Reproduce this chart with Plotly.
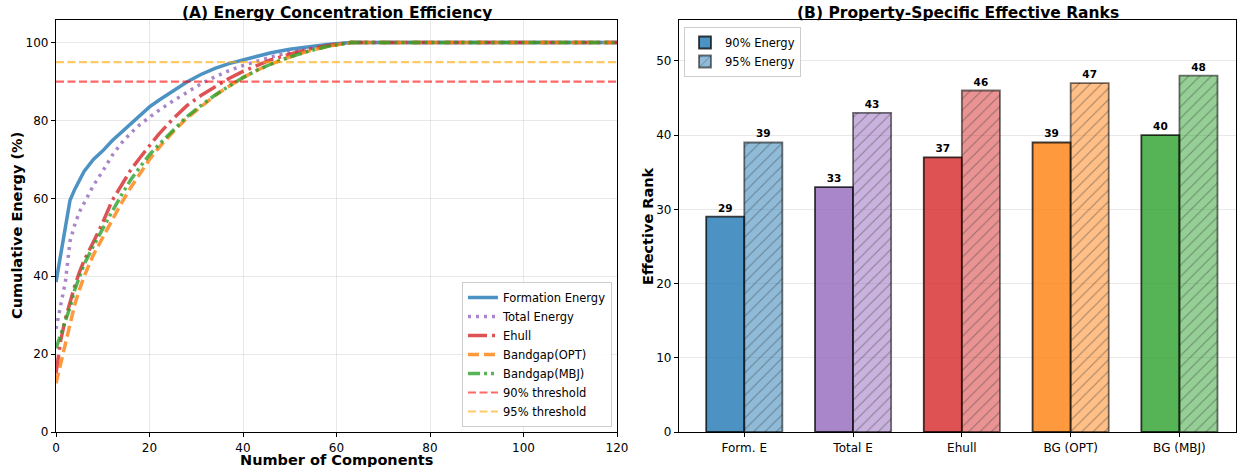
import plotly.graph_objects as go

# ---------------- data ----------------
components = [0, 1, 2, 3, 4, 5, 6, 8, 10, 12, 14, 16, 18, 20, 22, 25, 28, 31, 34, 37,
              40, 43, 46, 50, 54, 58, 63, 70, 80, 90, 100, 110, 120]

formation_energy = [38.5, 45.5, 52.5, 59.5, 62.3, 64.8, 66.9, 70.0, 72.2, 74.8, 77.0, 79.2, 81.5,
                    83.5, 85.2, 87.6, 89.9, 91.8, 93.4, 94.6, 95.6, 96.6, 97.4, 98.3, 99.0, 99.5,
                    100, 100, 100, 100, 100, 100, 100]
total_energy = [26.5, 32.0, 38.5, 49.0, 53.2, 56.5, 58.7, 63.3, 67.0, 71.0, 74.2, 76.8, 79.0,
                80.9, 82.6, 85.0, 87.3, 89.4, 91.2, 92.8, 94.1, 95.3, 96.3, 97.5, 98.4, 99.2,
                100, 100, 100, 100, 100, 100, 100]
ehull = [15.0, 23.5, 29.0, 33.3, 37.5, 41.0, 44.0, 48.8, 53.8, 59.4, 63.3, 67.3, 70.5,
         73.6, 76.5, 80.4, 83.8, 86.4, 88.7, 90.8, 92.6, 94.2, 95.6, 97.0, 98.3, 99.2,
         100, 100, 100, 100, 100, 100, 100]
bandgap_opt = [12.5, 17.5, 23.0, 28.3, 32.7, 36.5, 39.9, 45.5, 50.0, 54.5, 58.8, 62.8, 66.5,
               70.0, 73.0, 77.0, 80.6, 83.6, 86.4, 88.8, 91.0, 92.9, 94.5, 96.3, 97.8, 99.0,
               100, 100, 100, 100, 100, 100, 100]
bandgap_mbj = [21.5, 25.0, 28.5, 32.0, 36.5, 40.0, 43.0, 47.8, 52.3, 56.6, 60.8, 64.8, 68.1,
               71.2, 73.8, 77.5, 81.0, 83.8, 86.5, 88.8, 91.0, 92.9, 94.5, 96.3, 97.8, 99.0,
               100, 100, 100, 100, 100, 100, 100]

threshold_x = [0, 120]
threshold_90 = [90, 90]
threshold_95 = [95, 95]

properties = ["Form. E", "Total E", "Ehull", "BG (OPT)", "BG (MBJ)"]
rank_90 = [29, 33, 37, 39, 40]
rank_95 = [39, 43, 46, 47, 48]

# ---------------- styles ----------------
FONT = "DejaVu Sans"
C_BLUE, C_PURPLE, C_RED, C_ORANGE, C_GREEN = (31, 119, 180), (148, 103, 189), (214, 39, 40), (255, 127, 14), (44, 160, 44)
def rgba(c, a):
    return f"rgba({c[0]},{c[1]},{c[2]},{a})"

bar_cols = [C_BLUE, C_PURPLE, C_RED, C_ORANGE, C_GREEN]

fig = go.Figure()

line_specs = [
    ("Formation Energy", formation_energy, C_BLUE, "solid", 3.5),
    ("Total Energy", total_energy, C_PURPLE, "3px,5px", 3.5),
    ("Ehull", ehull, C_RED, "19px,5px,3px,5px", 3.5),
    ("Bandgap(OPT)", bandgap_opt, C_ORANGE, "11px,5px", 3.5),
    ("Bandgap(MBJ)", bandgap_mbj, C_GREEN, "12px,4px,3px,4px,3px,4px", 3.5),
]
for name, vals, col, dash, w in line_specs:
    fig.add_trace(go.Scatter(x=components, y=vals, mode="lines", name=name,
                             line=dict(color=rgba(col, 0.8), width=w, dash=dash),
                             xaxis="x", yaxis="y", legend="legend"))

fig.add_trace(go.Scatter(x=threshold_x, y=threshold_90, mode="lines", name="90% threshold",
                         line=dict(color="rgba(255,0,0,0.6)", width=2.2, dash="8px,3.5px"),
                         xaxis="x", yaxis="y", legend="legend"))
fig.add_trace(go.Scatter(x=threshold_x, y=threshold_95, mode="lines", name="95% threshold",
                         line=dict(color="rgba(255,165,0,0.6)", width=2.2, dash="8px,3.5px"),
                         xaxis="x", yaxis="y", legend="legend"))

fig.add_trace(go.Bar(x=properties, y=rank_90, name="90% Energy",
                     marker=dict(color=[rgba(c, 0.8) for c in bar_cols],
                                 line=dict(color="rgba(0,0,0,0.75)", width=1.8)),
                     text=[f"<b>{v}</b>" for v in rank_90], textposition="outside",
                     textfont=dict(family=FONT, size=10.5, color="black"),
                     cliponaxis=False, xaxis="x2", yaxis="y2", legend="legend2"))
fig.add_trace(go.Bar(x=properties, y=rank_95, name="95% Energy",
                     marker=dict(color=[rgba(c, 0.5) for c in bar_cols],
                                 line=dict(color="rgba(0,0,0,0.55)", width=1.8),
                                 pattern=dict(shape="/", fgcolor="rgba(0,0,0,0.6)",
                                              size=8, solidity=0.13)),
                     text=[f"<b>{v}</b>" for v in rank_95], textposition="outside",
                     textfont=dict(family=FONT, size=10.5, color="black"),
                     cliponaxis=False, xaxis="x2", yaxis="y2", legend="legend2"))

W, H = 1245, 467
ML, MR, MT, MB = 56, 9, 20, 35
PW = W - ML - MR
PH = H - MT - MB
x1_dom = [0, (617 - ML) / PW]
x2_dom = [(679 - ML) / PW, 1]

def px_x(px):
    return (px - ML) / PW

def px_y(py):
    return (H - MB - py) / PH

axis_common = dict(showline=True, linecolor="black", linewidth=1.2, mirror=True,
                   ticks="outside", ticklen=4, tickcolor="black",
                   tickfont=dict(family=FONT, size=12, color="black"),
                   showgrid=True, gridcolor="rgba(0,0,0,0.09)", gridwidth=1,
                   zeroline=False, automargin=False)

title_font = dict(family=FONT, size=15.5, color="black")
label_font = dict(family=FONT, size=14.5, color="black")

fig.update_layout(
    width=W, height=H,
    margin=dict(l=ML, r=MR, t=MT, b=MB, autoexpand=False),
    paper_bgcolor="white", plot_bgcolor="white",
    font=dict(family=FONT, color="black"),
    barmode="group", bargap=0.3, bargroupgap=0,
    xaxis=dict(domain=x1_dom, range=[0, 120], tickvals=[0, 20, 40, 60, 80, 100, 120],
               anchor="y", **axis_common),
    yaxis=dict(domain=[0, 1], range=[0, 105.8], tickvals=[0, 20, 40, 60, 80, 100],
               anchor="x", **axis_common),
    xaxis2=dict(domain=x2_dom, range=[-0.6, 4.52], anchor="y2",
                **{**axis_common, "showgrid": False}),
    yaxis2=dict(domain=[0, 1], range=[0, 55.5], tickvals=[0, 10, 20, 30, 40, 50], anchor="x2",
                **axis_common),
    legend=dict(x=px_x(612), y=px_y(427), xanchor="right", yanchor="bottom",
                bgcolor="rgba(255,255,255,0.85)", bordercolor="#cccccc", borderwidth=1,
                font=dict(family=FONT, size=11.5), tracegroupgap=0, itemwidth=30),
    legend2=dict(x=px_x(684), y=px_y(27), xanchor="left", yanchor="top",
                 bgcolor="rgba(255,255,255,0.85)", bordercolor="#cccccc", borderwidth=1,
                 font=dict(family=FONT, size=11.5), tracegroupgap=0, itemwidth=30),
    showlegend=True,
    annotations=[
        dict(text="<b>(A) Energy Concentration Efficiency</b>", xref="paper", yref="paper",
             x=(x1_dom[0] + x1_dom[1]) / 2, y=px_y(13), xanchor="center", yanchor="middle",
             showarrow=False, font=title_font),
        dict(text="<b>(B) Property-Specific Effective Ranks</b>", xref="paper", yref="paper",
             x=(x2_dom[0] + x2_dom[1]) / 2, y=px_y(13), xanchor="center", yanchor="middle",
             showarrow=False, font=title_font),
        dict(text="<b>Number of Components</b>", xref="paper", yref="paper",
             x=(x1_dom[0] + x1_dom[1]) / 2, y=px_y(460.5), xanchor="center", yanchor="middle",
             showarrow=False, font=label_font, borderpad=0),
        dict(text="<b>Cumulative Energy (%)</b>", xref="paper", yref="paper",
             x=px_x(17), y=px_y(226), xanchor="center", yanchor="middle", textangle=-90,
             showarrow=False, font=label_font),
        dict(text="<b>Effective Rank</b>", xref="paper", yref="paper",
             x=px_x(648), y=px_y(226), xanchor="center", yanchor="middle", textangle=-90,
             showarrow=False, font=label_font),
    ],
)

fig.write_html("out.html", config={"displayModeBar": False},
               post_script="document.body.style.margin='0px';document.body.style.overflow='hidden';")
